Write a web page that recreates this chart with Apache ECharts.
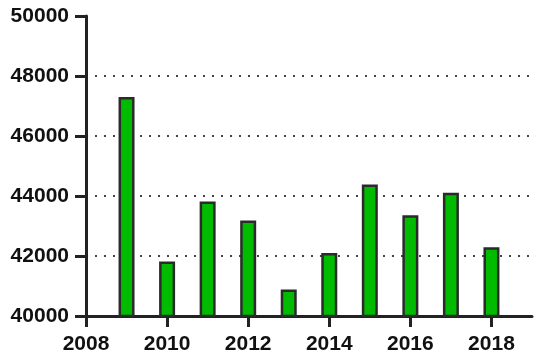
<!DOCTYPE html>
<html>
<head>
<meta charset="utf-8">
<script src="https://cdn.jsdelivr.net/npm/echarts@6/dist/echarts.min.js"></script>
<style>
  html, body { margin: 0; padding: 0; background: #fff; }
  #chart { width: 539px; height: 364px; }
</style>
</head>
<body>
<div id="chart"></div>
<script>
// years and values
var years = [2009, 2010, 2011, 2012, 2013, 2014, 2015, 2016, 2017, 2018];
var values = [47300, 41820, 43820, 43180, 40880, 42100, 44380, 43360, 44110, 42290];
var xTicks = [2008, 2010, 2012, 2014, 2016, 2018];
var yTicks = [40000, 42000, 44000, 46000, 48000, 50000];

var chart = echarts.init(document.getElementById('chart'));

var labelStyle = {
  color: '#111',
  fontFamily: 'Liberation Sans',
  fontWeight: 'bold',
  fontSize: 21,
  formatter: function (v) { return String(v); }
};

chart.setOption({
  animation: false,
  grid: { left: 86, right: 7, top: 16, bottom: 48 },
  xAxis: {
    type: 'value',
    min: 2008,
    max: 2019,
    interval: 1,
    axisLine: { show: true, lineStyle: { color: '#222', width: 3 } },
    axisTick: { show: true, length: 11, lineStyle: { color: '#222', width: 3 }, customValues: xTicks },
    axisLabel: Object.assign({ margin: 18, customValues: xTicks }, labelStyle),
    splitLine: { show: false }
  },
  yAxis: {
    type: 'value',
    min: 40000,
    max: 50000,
    interval: 2000,
    axisLine: { show: true, lineStyle: { color: '#222', width: 3 } },
    axisTick: { show: true, length: 11, lineStyle: { color: '#222', width: 3 }, customValues: yTicks },
    axisLabel: Object.assign({ margin: 17, customValues: yTicks }, labelStyle),
    splitLine: {
      show: true,
      showMinLine: false,
      showMaxLine: false,
      lineStyle: { color: '#444', width: 2, type: [2, 7] }
    }
  },
  series: [{
    type: 'bar',
    barWidth: 16,
    data: years.map(function (y, i) { return [y, values[i]]; }),
    itemStyle: { color: '#00bb00', borderColor: '#2a2a2a', borderWidth: 2.5 }
  }]
});
</script>
</body>
</html>
